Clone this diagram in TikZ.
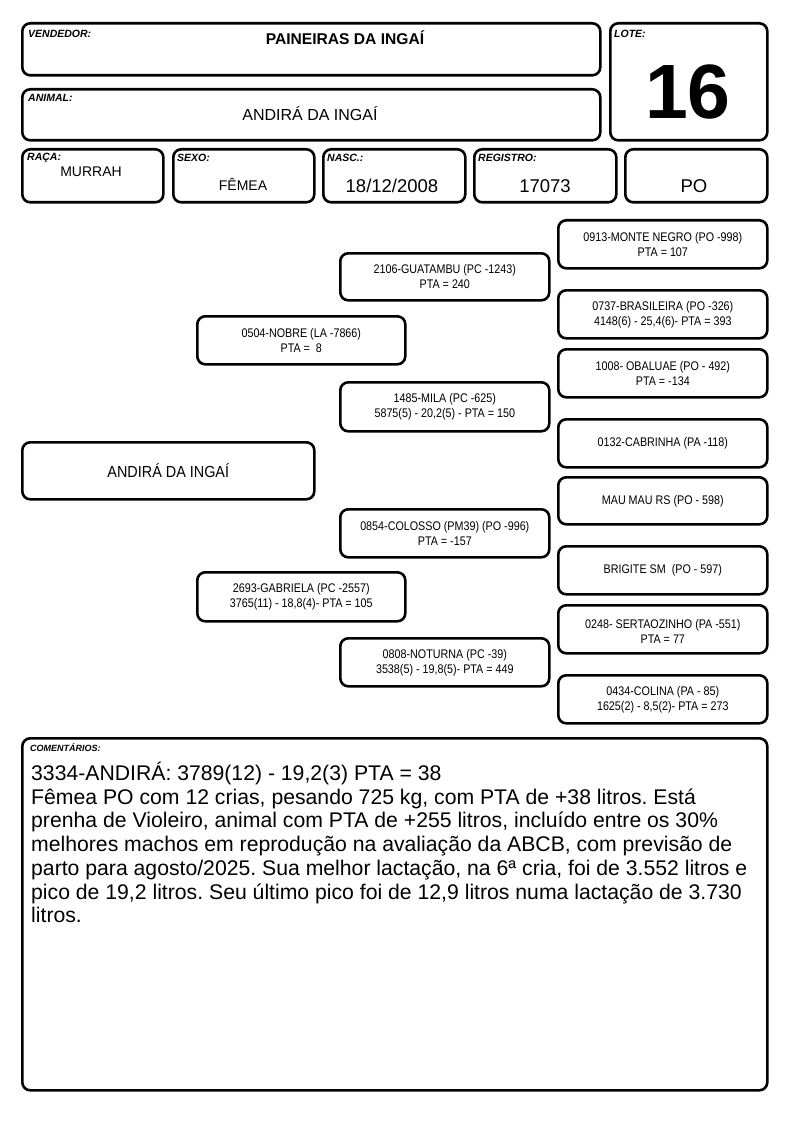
\documentclass[tikz,border=0pt]{standalone}
\usepackage{fontspec}
\setmainfont{Liberation Sans}
\newfontfamily\pedfont[FakeStretch=0.86]{Liberation Sans}
\newfontfamily\bigpedfont[FakeStretch=0.9]{Liberation Sans}
\frenchspacing
\begin{document}
\begin{tikzpicture}[x=1pt,y=-1pt,
  box/.style={draw=black, line width=2.6pt, rounded corners=8pt, anchor=north west, inner sep=0pt},
  lbl/.style={anchor=north west, inner sep=0pt, font=\fontsize{10.5}{12}\selectfont\bfseries\itshape},
  ped/.style={align=center, font=\pedfont\fontsize{12.5}{15}\selectfont},
  val/.style={font=\fontsize{18.5}{20}\selectfont},
]
\useasboundingbox (0,0) rectangle (794,1123);
% header boxes
\node[box, minimum width=578pt, minimum height=52pt] (vend) at (21,22) {};
\node[box, minimum width=157pt, minimum height=117pt] (lote) at (609,22) {};
\node[box, minimum width=578pt, minimum height=51pt] (anim) at (21,88) {};
\node[box, minimum width=141pt, minimum height=53pt] (raca) at (21,148) {};
\node[box, minimum width=141pt, minimum height=53pt] (sexo) at (172,148) {};
\node[box, minimum width=142pt, minimum height=53pt] (nasc) at (322,148) {};
\node[box, minimum width=142pt, minimum height=53pt] (reg) at (473,148) {};
\node[box, minimum width=142pt, minimum height=53pt] (po) at (624,148) {};

\node[lbl] (lv) at (28,30) {VENDEDOR:};
\node[font=\fontsize{15.6}{17}\selectfont\bfseries] (tv) at (345,38) {PAINEIRAS DA INGAÍ};
\node[lbl] (ll) at (614,30) {LOTE:};
\node[font=\fontsize{77}{80}\selectfont\bfseries] (tl) at (688,92) {16};
\node[lbl] (la) at (28,94) {ANIMAL:};
\node[font=\fontsize{16}{18}\selectfont] (ta) at (310,114) {ANDIRÁ DA INGAÍ};
\node[lbl] (lr) at (27,153) {RAÇA:};
\node[font=\fontsize{14}{16}\selectfont] (tr) at (91,172) {MURRAH};
\node[lbl] (ls) at (177,154) {SEXO:};
\node[font=\fontsize{14}{16}\selectfont] (ts) at (243,184) {FÊMEA};
\node[lbl] (ln) at (327,154) {NASC.:};
\node[val] (tn) at (392,186) {18/12/2008};
\node[lbl] (lg) at (478,154) {REGISTRO:};
\node[val] (tg) at (545,186) {17073};
\node[val] (tp) at (694,186) {PO};

% pedigree
\node[box, minimum width=209pt, minimum height=48pt] (p1) at (557,219) {};
\node[ped] at (p1.center) {0913-MONTE NEGRO (PO -998)\\PTA = 107};
\node[box, minimum width=209pt, minimum height=47pt] (p2) at (339,252) {};
\node[ped] at (p2.center) {2106-GUATAMBU (PC -1243)\\PTA = 240};
\node[box, minimum width=209pt, minimum height=48pt] (p3) at (557,289) {};
\node[ped] at (p3.center) {0737-BRASILEIRA (PO -326)\\4148(6) - 25,4(6)- PTA = 393};
\node[box, minimum width=208pt, minimum height=48pt] (p4) at (196,315) {};
\node[ped] at (p4.center) {0504-NOBRE (LA -7866)\\PTA = \ 8};
\node[box, minimum width=209pt, minimum height=48pt] (p5) at (557,348) {};
\node[ped] at (p5.center) {1008- OBALUAE (PO - 492)\\PTA = -134};
\node[box, minimum width=209pt, minimum height=49pt] (p6) at (339,381) {};
\node[ped] at (p6.center) {1485-MILA (PC -625)\\5875(5) - 20,2(5) - PTA = 150};
\node[box, minimum width=209pt, minimum height=48pt] (p7) at (557,418) {};
\node[ped] at (p7.center) {0132-CABRINHA (PA -118)};
\node[box, minimum width=292pt, minimum height=57pt] (p8) at (21,441) {};
\node[font=\bigpedfont\fontsize{16}{18}\selectfont] at (p8.center) {ANDIRÁ DA INGAÍ};
\node[box, minimum width=209pt, minimum height=47pt] (p9) at (557,476) {};
\node[ped] at (p9.center) {MAU MAU RS (PO - 598)};
\node[box, minimum width=209pt, minimum height=48pt] (p10) at (339,508) {};
\node[ped] at (p10.center) {0854-COLOSSO (PM39) (PO -996)\\PTA = -157};
\node[box, minimum width=209pt, minimum height=48pt] (p11) at (557,545) {};
\node[ped] at (p11.center) {BRIGITE SM \ (PO - 597)};
\node[box, minimum width=208pt, minimum height=49pt] (p12) at (196,571) {};
\node[ped] at (p12.center) {2693-GABRIELA (PC -2557)\\3765(11) - 18,8(4)- PTA = 105};
\node[box, minimum width=209pt, minimum height=48pt] (p13) at (557,604) {};
\node[ped] at ([yshift=-2pt]p13.center) {0248- SERTAOZINHO (PA -551)\\PTA = 77};
\node[box, minimum width=209pt, minimum height=48pt] (p14) at (339,637) {};
\node[ped] at (p14.center) {0808-NOTURNA (PC -39)\\3538(5) - 19,8(5)- PTA = 449};
\node[box, minimum width=209pt, minimum height=48pt] (p15) at (557,674) {};
\node[ped] at (p15.center) {0434-COLINA (PA - 85)\\1625(2) - 8,5(2)- PTA = 273};

% comments
\node[box, minimum width=745pt, minimum height=352pt] (com) at (21,737) {};
\node[lbl, font=\fontsize{9}{10}\selectfont\bfseries\itshape] (lc) at (30,743) {COMENTÁRIOS:};
\node[anchor=north west, inner sep=0pt, align=left, font=\fontsize{21.2}{23.7}\selectfont] (tc) at (31,762)
{3334-ANDIRÁ: 3789(12) - 19,2(3) PTA = 38\\
Fêmea PO com 12 crias, pesando 725 kg, com PTA de +38 litros. Está\\
prenha de Violeiro, animal com PTA de +255 litros, incluído entre os 30\%\\
melhores machos em reprodução na avaliação da ABCB, com previsão de\\
parto para agosto/2025. Sua melhor lactação, na 6ª cria, foi de 3.552 litros e\\
pico de 19,2 litros. Seu último pico foi de 12,9 litros numa lactação de 3.730\\
litros.};
\end{tikzpicture}
\end{document}
